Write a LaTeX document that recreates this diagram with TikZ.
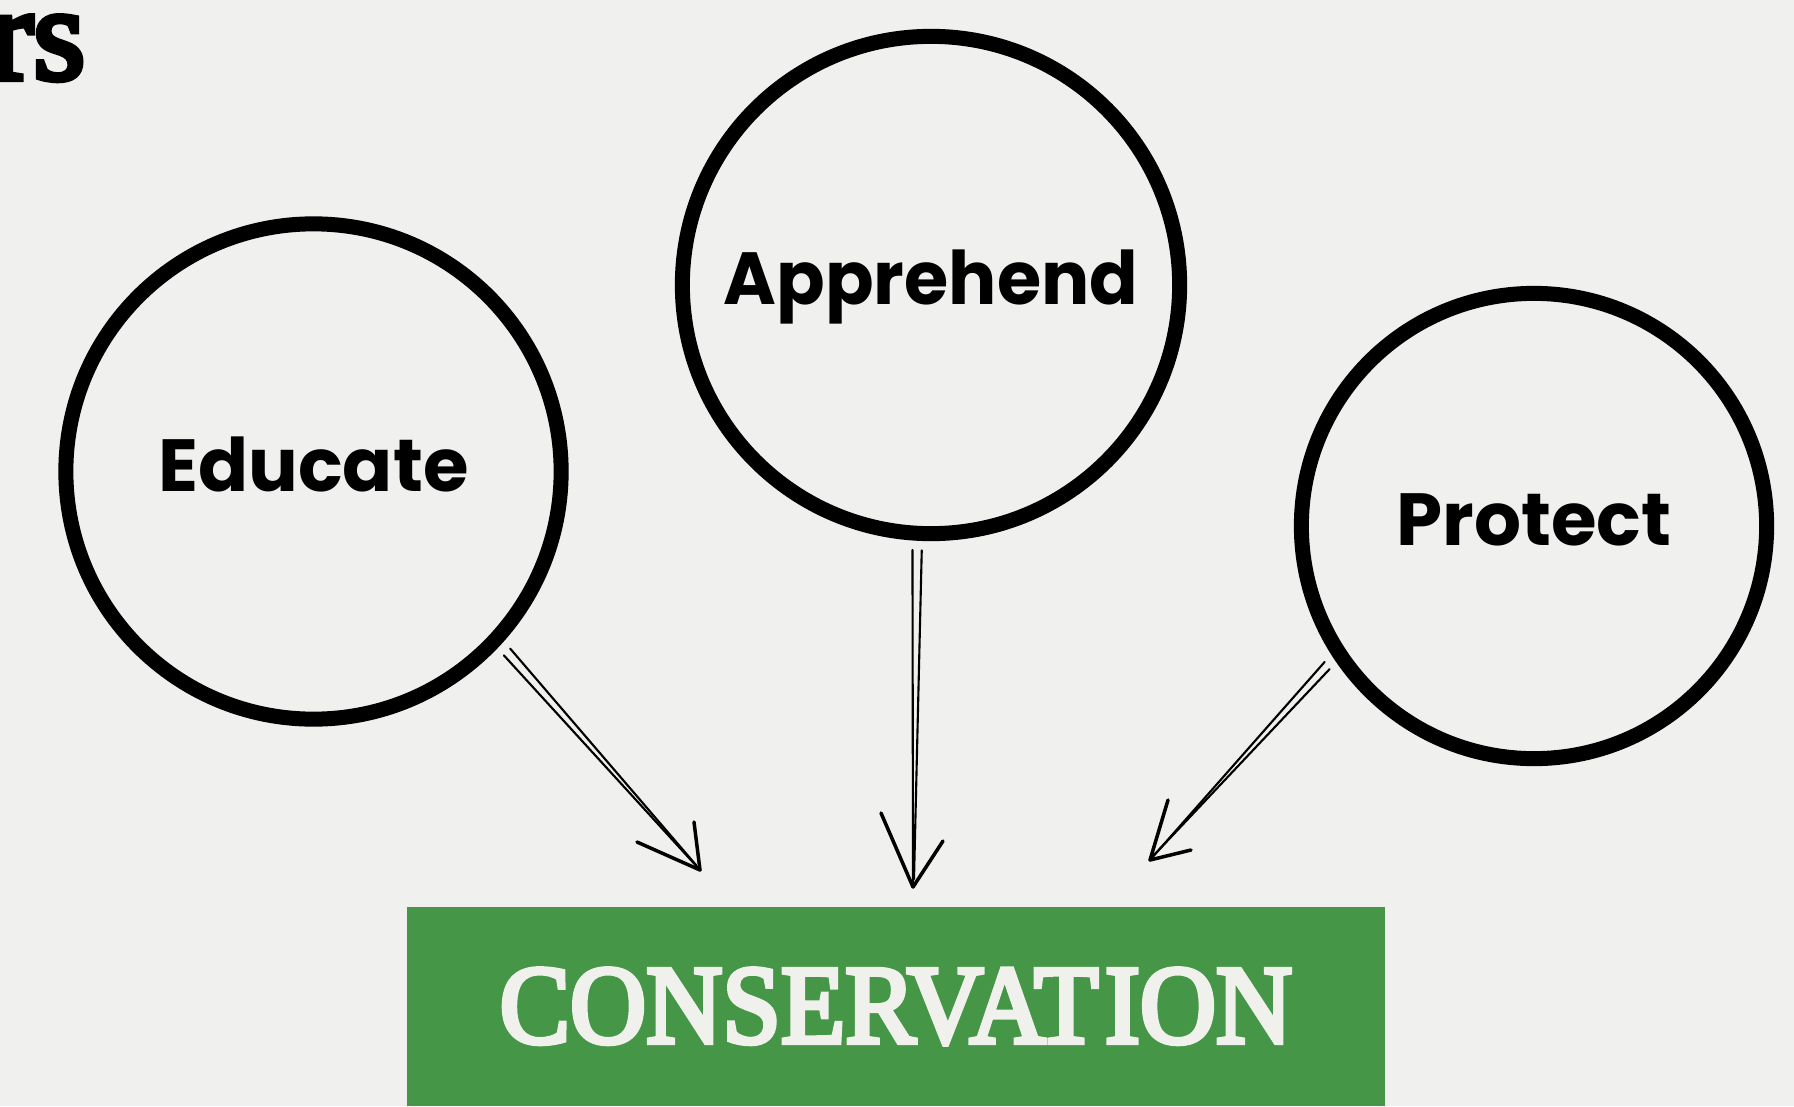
\documentclass[tikz,border=0pt]{standalone}
\usepackage{fontspec}
\usepackage{graphicx}
\usetikzlibrary{arrows.meta}
\newfontfamily\labelfont{Poppins}
\newfontfamily\headfont{Liberation Serif}[FakeBold=4.5]
\definecolor{paper}{RGB}{240,240,238}
\definecolor{leaf}{RGB}{69,150,70}
\definecolor{chalk}{RGB}{240,240,236}

\begin{document}
\begin{tikzpicture}[x=0.01cm,y=-0.01cm,
                ring/.style={circle,draw,line width=0.15cm,outer sep=0.17cm,inner sep=0pt,
                    text height=0.52cm,text depth=0.13cm,font=\labelfont\bfseries\fontsize{21}{21}\selectfont},
                strand/.style={line width=0.6pt,line cap=round},
                barb/.style={line width=1pt,line cap=round}]
                \useasboundingbox (0,0) rectangle (1794,1106);
                \clip (0,0) rectangle (1794,1106);
                \fill[paper] (0,0) rectangle (1794,1106);
                \node[anchor=base east,inner sep=0pt,font=\headfont\fontsize{38}{38}\selectfont] (title) at (86,79) {rs};

                \node[ring,minimum size=4.95cm] (edu) at (313.5,471.5) {Educate};
                \node[ring,minimum size=4.97cm] (appr) at (931,285) {\scalebox{0.97}[1]{Apprehend}};
                \node[ring,minimum size=4.65cm] (prot) at (1534,526) {Protect};
                \node[fill=leaf,text=chalk,inner sep=0pt,minimum width=9.78cm,minimum height=1.99cm] (cons) at (896,1006.5)
                    {\resizebox{7.92cm}{0.74cm}{\headfont CONSERVAT\kern0.6ptION}};

                \coordinate (tipE) at (700,870);
                \coordinate (tipA) at (913,887);
                \coordinate (tipP) at (1150,860);

                \draw[strand] (edu.-44) -- (tipE);
                \draw[strand] (edu.-42) -- ([shift={(-4,-5)}]tipE);
                \draw[barb] (tipE) -- ++(-63,-28);
                \draw[barb] (tipE) -- ++(-6,-48);

                \draw[strand] (appr.-94) -- (tipA);
                \draw[strand] (appr.-92.7) -- ([shift={(1,-8)}]tipA);
                \draw[barb] (tipA) -- ++(-32,-74);
                \draw[barb] (tipA) -- ++(30,-46);

                \draw[strand] (prot.-147) -- (tipP);
                \draw[strand] (prot.-145.5) -- ([shift={(4,-5)}]tipP);
                \draw[barb] (tipP) -- ++(18,-60);
                \draw[barb] (tipP) -- ++(41,-10);
            \end{tikzpicture}
\end{document}
